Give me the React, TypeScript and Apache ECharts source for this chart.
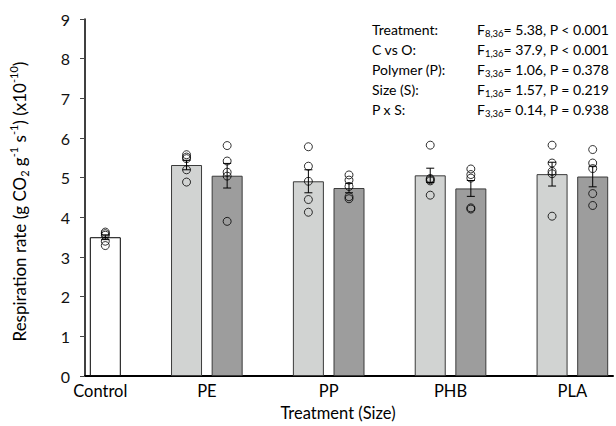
import React, { useEffect, useRef } from 'react';
import * as echarts from 'echarts';

// ---- Data ----
const polymers = ['PE', 'PP', 'PHB', 'PLA'];
const controlLabel = 'Control';
const controlMean = 3.5;
const controlSE = 0.06;
const controlPoints = [3.63, 3.59, 3.55, 3.4, 3.29];
// first size class (light bars) and second size class (dark bars)
const smallMeans = [5.32, 4.91, 5.06, 5.09];
const largeMeans = [5.05, 4.74, 4.73, 5.03];
const smallSE = [0.12, 0.29, 0.18, 0.3];
const largeSE = [0.31, 0.12, 0.2, 0.26];
const smallPoints = [
  [5.58, 5.52, 5.48, 5.2, 4.89],
  [5.78, 5.29, 4.91, 4.45, 4.13],
  [5.82, 4.98, 4.95, 4.92, 4.56],
  [5.82, 5.37, 5.16, 5.1, 4.03],
];
const largePoints = [
  [5.81, 5.42, 5.14, 5.04, 3.9],
  [5.07, 4.94, 4.78, 4.52, 4.47],
  [5.22, 5.08, 4.99, 4.24, 4.21],
  [5.71, 5.37, 5.23, 4.6, 4.3],
];
const yTicks = [0, 1, 2, 3, 4, 5, 6, 7, 8, 9];
const statLabels = ['Treatment:', 'C vs O:', 'Polymer (P):', 'Size (S):', 'P x S:'];
const statDf = ['8,36', '1,36', '3,36', '1,36', '3,36'];
const statF = ['5.38', '37.9', '1.06', '1.57', '0.14'];
const statP = ['< 0.001', '< 0.001', '= 0.378', '= 0.219', '= 0.938'];

// ---- Layout helpers (slot positions on the x scale) ----
const controlX = 0.5;
const controlLabelX = 0.375;
const smallX = (g: number) => 3 * g + 2.5;
const largeX = (g: number) => 3 * g + 3.5;
const groupLabelX = (g: number) => 3 * g + 3;

const FONT = 'Lato, "Open Sans", sans-serif';
const LIGHT = '#d1d3d2';
const DARK = '#9d9d9d';
const EDGE = '#3a3a3a';

function buildOption() {
  const barData: any[] = [
    { value: [controlX, controlMean], itemStyle: { color: '#ffffff', borderColor: '#000', borderWidth: 1 } },
  ];
  const errData: number[][] = [[controlX, controlMean, controlSE]];
  const pts: number[][] = controlPoints.map((v) => [controlX, v]);
  polymers.forEach((_, g) => {
    barData.push({ value: [smallX(g), smallMeans[g]], itemStyle: { color: LIGHT, borderColor: EDGE, borderWidth: 1 } });
    barData.push({ value: [largeX(g), largeMeans[g]], itemStyle: { color: DARK, borderColor: EDGE, borderWidth: 1 } });
    errData.push([smallX(g), smallMeans[g], smallSE[g]]);
    errData.push([largeX(g), largeMeans[g], largeSE[g]]);
    smallPoints[g].forEach((v) => pts.push([smallX(g), v]));
    largePoints[g].forEach((v) => pts.push([largeX(g), v]));
  });

  const labelAt = (v: number) => {
    if (Math.abs(v - controlLabelX) < 1e-6) return controlLabel;
    for (let g = 0; g < polymers.length; g++) {
      if (Math.abs(v - groupLabelX(g)) < 1e-6) return polymers[g];
    }
    return '';
  };

  const statGraphics: any[] = [];
  statLabels.forEach((lab, i) => {
    const y = 29 + i * 20;
    statGraphics.push({
      type: 'text',
      x: 372,
      y,
      style: { text: lab, fontSize: 14, fontFamily: FONT, fill: '#000', verticalAlign: 'middle' },
    });
    statGraphics.push({
      type: 'text',
      x: 477,
      y,
      style: {
        text: `{n|F}{s|${statDf[i]}}{n|= ${statF[i]}, P ${statP[i]}}`,
        fontFamily: FONT,
        fill: '#000',
        verticalAlign: 'middle',
        rich: {
          n: { fontSize: 14, fontFamily: FONT, fill: '#000', lineHeight: 19, verticalAlign: 'middle' },
          s: { fontSize: 9.5, fontFamily: FONT, fill: '#000', lineHeight: 10, verticalAlign: 'bottom' },
        },
      },
    });
  });

  return {
    animation: false,
    backgroundColor: '#fff',
    grid: { left: 82, right: 0, top: 19, bottom: 49, containLabel: false },
    xAxis: {
      type: 'value',
      min: 0,
      max: 13,
      interval: 0.125,
      name: 'Treatment (Size)',
      nameLocation: 'middle',
      nameGap: 27,
      nameTextStyle: { fontSize: 16.5, fontFamily: FONT, color: '#000', padding: [0, 22, 0, 0] },
      axisLine: { show: true, onZero: false, lineStyle: { color: '#000', width: 2 } },
      axisTick: { show: false },
      splitLine: { show: false },
      axisLabel: {
        margin: 6,
        fontSize: 16.5,
        fontFamily: FONT,
        color: '#000',
        showMinLabel: true,
        showMaxLabel: true,
        formatter: (v: number) => labelAt(v),
      },
    },
    yAxis: {
      type: 'value',
      min: yTicks[0],
      max: yTicks[yTicks.length - 1],
      interval: 1,
      name: '{n|Respiration rate (g CO}{sub|2}{n| g}{sup|-1}{n| s}{sup|-1}{n|) (x10}{sup|-10}{n|)}',
      nameLocation: 'middle',
      nameGap: 55,
      nameRotate: 90,
      nameTextStyle: {
        fontFamily: FONT,
        color: '#000',
        padding: [0, 8, 0, 0],
        rich: {
          n: { fontSize: 17, fontFamily: FONT, color: '#000', lineHeight: 22, verticalAlign: 'middle' },
          sub: { fontSize: 11, fontFamily: FONT, color: '#000', lineHeight: 12, verticalAlign: 'bottom' },
          sup: { fontSize: 11, fontFamily: FONT, color: '#000', lineHeight: 12, verticalAlign: 'top' },
        },
      },
      axisLine: { show: true, lineStyle: { color: '#000', width: 1.5 } },
      axisTick: { show: true, inside: false, length: 5, lineStyle: { color: '#444', width: 1 } },
      splitLine: { show: false },
      axisLabel: { margin: 15, fontSize: 16, fontFamily: FONT, color: '#111' },
    },
    graphic: statGraphics,
    series: [
      {
        type: 'bar',
        data: barData,
        barWidth: 31,
        z: 2,
      },
      {
        type: 'custom',
        data: errData,
        encode: { x: 0, y: 1 },
        z: 3,
        renderItem: (params: any, api: any) => {
          const x = api.value(0);
          const m = api.value(1);
          const se = api.value(2);
          const top = api.coord([x, m + se]);
          const bot = api.coord([x, m - se]);
          const hw = 4;
          const style = { stroke: '#000', lineWidth: 1 };
          return {
            type: 'group',
            children: [
              { type: 'line', shape: { x1: top[0], y1: top[1], x2: bot[0], y2: bot[1] }, style },
              { type: 'line', shape: { x1: top[0] - hw, y1: top[1], x2: top[0] + hw, y2: top[1] }, style },
              { type: 'line', shape: { x1: bot[0] - hw, y1: bot[1], x2: bot[0] + hw, y2: bot[1] }, style },
            ],
          };
        },
      },
      {
        type: 'scatter',
        data: pts,
        symbol: 'circle',
        symbolSize: 8,
        z: 4,
        itemStyle: { color: 'rgba(0,0,0,0)', borderColor: '#000', borderWidth: 1 },
      },
    ],
  };
}

export default function App() {
  const ref = useRef<HTMLDivElement>(null);
  useEffect(() => {
    const chart = echarts.init(ref.current as HTMLDivElement, null, { renderer: 'svg' });
    chart.setOption(buildOption() as any);
    return () => chart.dispose();
  }, []);
  return (
    <div
      ref={ref}
      style={{ position: 'absolute', left: 0, top: 0, width: 616, height: 426, background: '#fff' }}
    />
  );
}
